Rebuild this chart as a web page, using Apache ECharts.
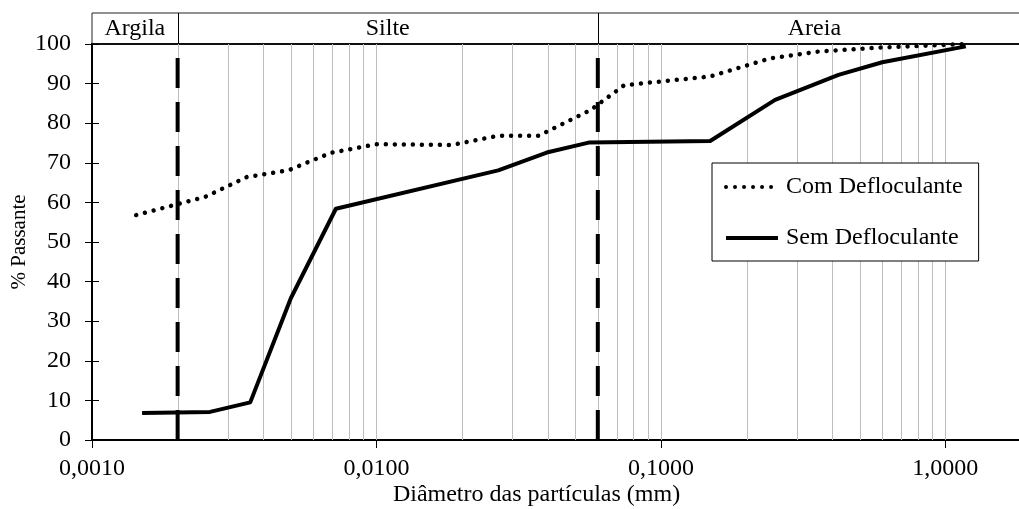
<!DOCTYPE html>
<html>
<head>
<meta charset="utf-8">
<script src="https://cdn.jsdelivr.net/npm/echarts@6/dist/echarts.min.js"></script>
<style>
  html, body { margin: 0; padding: 0; background: #fff; }
  #chart { width: 1019px; height: 509px; }
</style>
</head>
<body>
<div id="chart"></div>
<script>
// Curva granulométrica: diâmetro (mm) x % passante
const comDiameters = [0.00143, 0.0025, 0.0035, 0.0049, 0.0069, 0.0100, 0.0184, 0.0267, 0.0371, 0.0565, 0.0743, 0.149, 0.243, 0.358, 0.59, 1.18];
const comPassing   = [56.8, 61.4, 66.4, 68.1, 72.5, 74.7, 74.5, 76.8, 76.8, 83.3, 89.6, 91.8, 96.4, 98.1, 99.1, 100];

const semDiameters = [0.0015, 0.0026, 0.0036, 0.0050, 0.0072, 0.0268, 0.0397, 0.0557, 0.149, 0.252, 0.421, 0.600, 1.18];
const semPassing   = [6.8, 7.1, 9.5, 35.8, 58.4, 68.1, 72.6, 75.1, 75.5, 85.9, 92.2, 95.4, 99.4];

// Frações do solo e seus limites (mm)
const fractionNames  = ['Argila', 'Silte', 'Areia'];
const fractionLimits = [0.001, 0.002, 0.06, 2];

// Linhas verticais auxiliares da escala logarítmica
const gridDiameters = [
  0.002, 0.003, 0.004, 0.005, 0.006, 0.007, 0.008, 0.009,
  0.01, 0.02, 0.03, 0.04, 0.05, 0.06, 0.07, 0.08, 0.09,
  0.1, 0.2, 0.3, 0.4, 0.5, 0.6, 0.7, 0.8, 0.9, 1
];

const FONT = 'Liberation Serif, Times New Roman, serif';
const FS = 24;
const Y_MIN = 0, Y_MAX = 100;

const zip = (xs, ys) => xs.map((x, i) => [x, ys[i]]);
const fmtDiam = v => v.toFixed(4).replace('.', ',');
const crisp = x => Math.round(x) + 0.5;

// desenha uma linha vertical em x = d, de yLow até yHigh do eixo
function verticalLine(yLow, yHigh, style, snap) {
  return (params, api) => {
    const d = api.value(0);
    const p0 = api.coord([d, yLow]);
    const p1 = api.coord([d, yHigh]);
    const x = snap ? crisp(p0[0]) : p0[0];
    return {
      type: 'line',
      shape: { x1: x, y1: p0[1], x2: x, y2: p1[1] },
      style: style
    };
  };
}

const chart = echarts.init(document.getElementById('chart'), null, { renderer: 'canvas' });

chart.setOption({
  animation: false,
  backgroundColor: '#fff',
  textStyle: { fontFamily: FONT, color: '#000' },
  grid: [
    { left: 92, top: 44, right: -12, bottom: 69, outerBoundsMode: 'none', containLabel: false,
      show: true, borderColor: '#000', borderWidth: 2, backgroundColor: 'transparent' },
    { left: 92, top: 13, right: -12, height: 31, outerBoundsMode: 'none', containLabel: false,
      show: true, borderColor: '#222', borderWidth: 1, backgroundColor: 'transparent' }
  ],
  xAxis: [
    {
      type: 'log', logBase: 10, gridIndex: 0, min: 0.001, max: 2,
      axisLine: { show: true, lineStyle: { color: '#000', width: 2 } },
      axisTick: { show: true, length: 5, lineStyle: { color: '#000', width: 1 } },
      axisLabel: { show: true, fontSize: FS, fontFamily: FONT, color: '#000', margin: 17,
                   showMaxLabel: false, formatter: fmtDiam },
      splitLine: { show: false },
      name: 'Diâmetro das partículas (mm)', nameLocation: 'middle', nameGap: 43,
      nameMoveOverlap: false,
      nameTextStyle: { fontSize: FS, fontFamily: FONT, color: '#000', padding: [0, 50, 0, 0] }
    },
    {
      type: 'log', logBase: 10, gridIndex: 0, min: 0.001, max: 2,
      axisLine: { show: false },
      axisTick: { show: true, inside: true, length: 8, lineStyle: { color: '#000', width: 1 } },
      axisLabel: { show: false },
      splitLine: { show: false }
    },
    { type: 'log', logBase: 10, gridIndex: 1, min: 0.001, max: 2, show: false }
  ],
  yAxis: [
    {
      type: 'value', gridIndex: 0, min: Y_MIN, max: Y_MAX, interval: 10,
      axisLine: { show: true, lineStyle: { color: '#000', width: 2 } },
      axisTick: { show: true, length: 7, lineStyle: { color: '#000', width: 1 } },
      axisLabel: { fontSize: FS, fontFamily: FONT, color: '#000', margin: 21 },
      splitLine: { show: false },
      name: '% Passante', nameLocation: 'middle', nameGap: 62,
      nameMoveOverlap: false,
      nameTextStyle: { fontSize: 21, fontFamily: FONT, color: '#000' }
    },
    {
      type: 'value', gridIndex: 0, min: Y_MIN, max: Y_MAX, interval: 10, position: 'left',
      axisLine: { show: false },
      axisTick: { show: true, inside: true, length: 7, lineStyle: { color: '#000', width: 1 } },
      axisLabel: { show: false },
      splitLine: { show: false }
    },
    { type: 'value', gridIndex: 1, min: 0, max: 1, show: false }
  ],
  legend: {
    data: ['Com Defloculante', 'Sem Defloculante'],
    orient: 'vertical', left: 712, top: 163,
    itemWidth: 52, itemHeight: 14, itemGap: 25,
    padding: [11, 16, 10, 12],
    backgroundColor: '#fff', borderColor: '#000', borderWidth: 1, borderRadius: 0,
    textStyle: { fontSize: FS, fontFamily: FONT, color: '#000', lineHeight: 26, padding: [0, 0, 0, 3] },
    itemStyle: { opacity: 0, color: 'rgba(0,0,0,0)', borderWidth: 0 },
    lineStyle: { width: 4 },
    selectedMode: false
  },
  series: [
    {
      // linhas verticais de referência da escala log
      name: 'grade', type: 'custom', xAxisIndex: 0, yAxisIndex: 0, z: 1, silent: true,
      data: gridDiameters.map(d => [d, Y_MIN]),
      renderItem: verticalLine(Y_MIN, Y_MAX, { stroke: '#bdbdbd', lineWidth: 1 }, true)
    },
    {
      // limites entre as frações (tracejado)
      name: 'limites', type: 'custom', xAxisIndex: 0, yAxisIndex: 0, z: 3, silent: true,
      data: fractionLimits.slice(1, 3).map(d => [d, Y_MIN]),
      renderItem: verticalLine(Y_MIN, Y_MAX, { stroke: '#000', lineWidth: 4, lineDash: [30, 14], lineCap: 'butt' }, false)
    },
    {
      name: 'Com Defloculante', type: 'line', xAxisIndex: 0, yAxisIndex: 0, z: 4,
      data: zip(comDiameters, comPassing),
      symbol: 'none', smooth: false,
      lineStyle: { color: '#000', width: 4.5, type: [0.01, 9], cap: 'round' },
      itemStyle: { color: '#000' }
    },
    {
      name: 'Sem Defloculante', type: 'line', xAxisIndex: 0, yAxisIndex: 0, z: 4,
      data: zip(semDiameters, semPassing),
      symbol: 'none', smooth: false,
      lineStyle: { color: '#000', width: 4, type: 'solid', join: 'round' },
      itemStyle: { color: '#000' }
    },
    {
      // divisões da faixa superior
      name: 'divisões', type: 'custom', xAxisIndex: 2, yAxisIndex: 2, z: 2, silent: true,
      data: fractionLimits.slice(1, 3).map(d => [d, 0]),
      renderItem: verticalLine(0, 1, { stroke: '#000', lineWidth: 1 }, true)
    },
    {
      // nomes das frações na faixa superior
      name: 'frações', type: 'line', xAxisIndex: 2, yAxisIndex: 2, data: [], z: 2, silent: true,
      markArea: {
        silent: true,
        itemStyle: { color: 'rgba(0,0,0,0)' },
        label: { show: true, position: 'inside', fontSize: FS, fontFamily: FONT, color: '#000' },
        data: fractionNames.map((n, i) => [
          { name: n, xAxis: fractionLimits[i] },
          { xAxis: fractionLimits[i + 1] }
        ])
      }
    }
  ]
});
</script>
</body>
</html>
